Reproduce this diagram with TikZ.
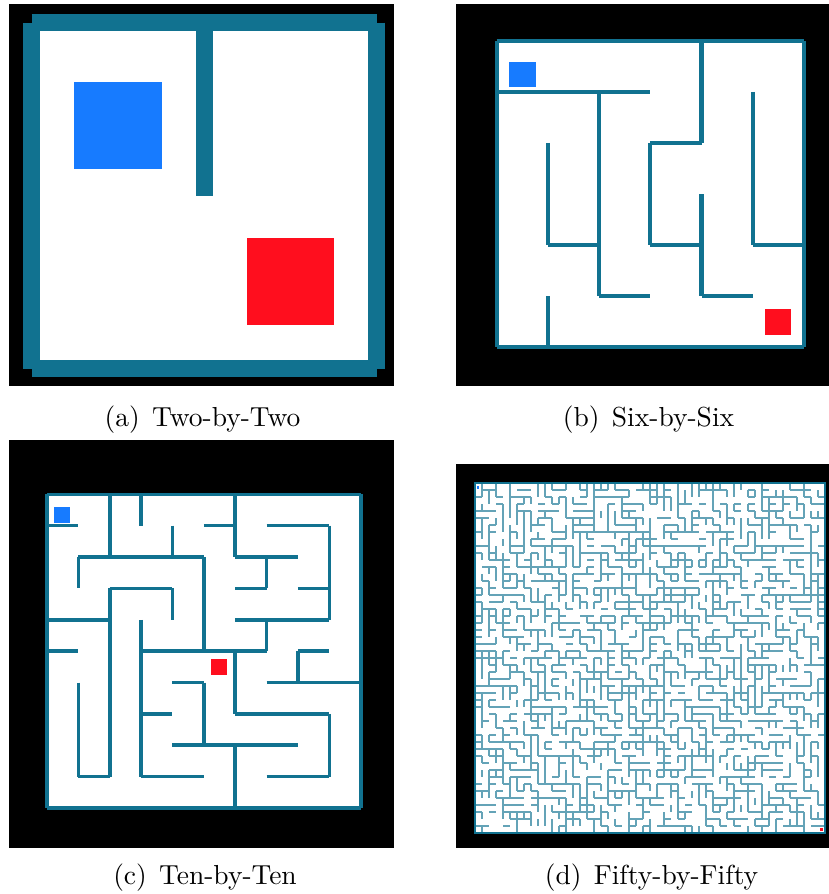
\documentclass[tikz,border=0pt]{standalone}
\usepackage{tikz}
\definecolor{wallteal}{RGB}{17,114,144}
\definecolor{startblue}{RGB}{23,123,255}
\definecolor{goalred}{RGB}{255,14,30}

\begin{document}
\begin{tikzpicture}[
  x=1pt, y=-1pt,
  board/.style={fill=black},
  floor/.style={fill=white},
  wall/.style={draw=wallteal, line cap=butt},
  thinwall/.style={draw=wallteal!65, line width=1.2pt, line cap=butt},
  start/.style={fill=startblue},
  goal/.style={fill=goalred},
  subcap/.style={anchor=base, inner sep=0pt, scale=2.75, font=\fontsize{10}{12}\selectfont}
]
\fill[white] (0,0) rectangle (829,894);
\useasboundingbox (0,0) rectangle (829,894);

% (a) two-by-two
\fill[board] (9,4) rectangle (394,386);
\begin{scope}[shift={(31.5,22.5)}, x=172.5pt, y=-173pt]
  \fill[floor] (0,0) rectangle (2,2);
  \foreach \a/\b/\c/\d in {0/0/2/0, 0/2/2/2, 0/0/0/2, 2/0/2/2, 1/0/1/1}
    \draw[wall, line width=17pt] (\a,\b) -- (\c,\d);
\end{scope}
\fill[start] (74,82) rectangle (162,169);
\fill[goal] (247,238) rectangle (334,325);
\node[subcap] (capA) at (202.5,426.5) {(a)\hspace{4.5pt}Two-by-Two};

% (b) six-by-six
\fill[board] (456,4) rectangle (829,386);
\begin{scope}[shift={(496.7,40.7)}, x=51.2pt, y=-51.1pt]
  \fill[floor] (0,0) rectangle (6,6);
  \foreach \a/\b/\c/\d in {0/0/6/0, 0/6/6/6, 0/0/0/6, 6/0/6/6,
      0/1/3/1, 2/1/2/5, 2/5/3/5, 4/0/4/2, 3/2/4/2, 3/2/3/4, 3/4/4/4,
      4/3/4/5, 4/5/5/5, 5/1/5/4, 5/4/6/4, 1/2/1/4, 1/4/2/4, 1/5/1/6}
    \draw[wall, line width=4.3pt] (\a,\b) -- (\c,\d);
\end{scope}
\fill[start] (509.3,61.7) rectangle (535.7,87.3);
\fill[goal] (765.3,309.3) rectangle (791,334.7);
\node[subcap] (capB) at (648.5,426.5) {(b)\hspace{4.5pt}Six-by-Six};

% (c) ten-by-ten
\fill[board] (9,440) rectangle (394,848);
\begin{scope}[shift={(47,494.3)}, x=31.37pt, y=-31.37pt]
  \fill[floor] (0,0) rectangle (10,10);
  \foreach \a/\b/\c/\d in {0/0/10/0, 0/10/10/10, 0/0/0/10, 10/0/10/10,
      0/1/1/1, 2/0/2/2, 3/0/3/1, 4/1/4/2, 5/1/6/1, 6/0/6/2, 6/2/8/2,
      7/1/9/1, 9/1/9/4, 1/2/5/2, 1/2/1/3, 5/2/5/5, 7/2/7/3, 6/3/7/3,
      8/3/9/3, 6/4/9/4, 7/4/7/5, 3/5/7/5, 2/3/4/3, 4/3/4/4, 2/3/2/9,
      0/4/2/4, 0/5/1/5, 1/6/1/9, 1/9/2/9, 3/4/3/9, 3/9/5/9, 3/7/4/7,
      4/6/5/6, 5/6/5/8, 4/8/8/8, 6/5/6/7, 6/7/9/7, 9/7/9/9, 7/9/9/9,
      6/8/6/10, 7/6/10/6, 8/5/8/6, 8/5/9/5}
    \draw[wall, line width=3.6pt] (\a,\b) -- (\c,\d);
\end{scope}
\fill[start] (54.3,507.3) rectangle (70,522.7);
\fill[goal] (211.3,659.3) rectangle (227.3,675);
\node[subcap] (capC) at (205,884.3) {(c)\hspace{4.5pt}Ten-by-Ten};

% (d) fifty-by-fifty
\fill[board] (456,464) rectangle (829,848);
\begin{scope}[shift={(475,483)}, x=7pt, y=-7pt]
  \fill[floor] (0,0) rectangle (50,50);
  \pgfmathsetseed{2718}
  \foreach \i in {0,...,49} {
    \foreach \j in {0,...,49} {
      \pgfmathrandominteger{\pick}{0}{5}
      % 0,1: east wall; 2,3: south wall; 4: both; 5: none
      \ifnum\pick<2 \def\east{1}\def\south{0}\fi
      \ifnum\pick>1 \ifnum\pick<4 \def\east{0}\def\south{1}\fi\fi
      \ifnum\pick=4 \def\east{1}\def\south{1}\fi
      \ifnum\pick=5 \def\east{0}\def\south{0}\fi
      \ifnum\east=1 \ifnum\i<49 \draw[thinwall] (\i+1,\j) -- (\i+1,\j+1); \fi\fi
      \ifnum\south=1 \ifnum\j<49 \draw[thinwall] (\i,\j+1) -- (\i+1,\j+1); \fi\fi
    }
  }
  \draw[wall, line width=1.3pt] (0,0) rectangle (50,50);
\end{scope}
\fill[start] (476.7,486) rectangle (479.3,489);
\fill[goal] (820,827.7) rectangle (823.3,831);
\node[subcap] (capD) at (651.5,884.3) {(d)\hspace{4.5pt}Fifty-by-Fifty};
\end{tikzpicture}
\end{document}
